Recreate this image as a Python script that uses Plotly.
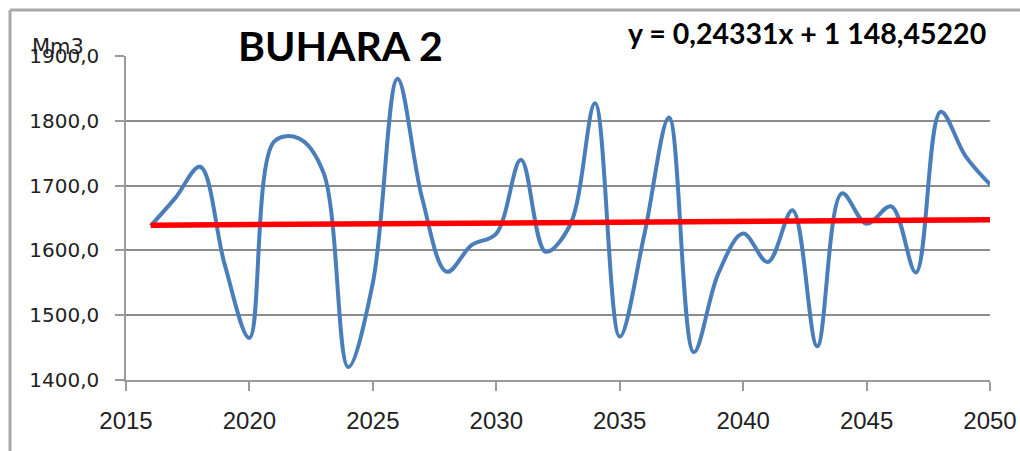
import plotly.graph_objects as go

# Data
years = list(range(2016, 2051))
values = [
    1638, 1681, 1729, 1578, 1465, 1768, 1773, 1720, 1420, 1550,
    1865, 1680, 1567, 1608, 1626, 1740, 1598, 1640, 1827, 1467,
    1625, 1805, 1443, 1565, 1626, 1582, 1662, 1452, 1688, 1641,
    1668, 1566, 1814, 1746, 1702,
]
trend_years = [2016, 2050]
trend_values = [1638.9, 1647.2]  # y = 0,24331x + 1 148,45220

x_ticks = [2015, 2020, 2025, 2030, 2035, 2040, 2045, 2050]
y_ticks = [1400, 1500, 1600, 1700, 1800, 1900]
y_ticktext = ["1400,0", "1500,0", "1600,0", "1700,0", "1800,0", "1900,0"]
grid_vals = [1500, 1600, 1700, 1800]

AXIS_GRAY = "#9a9a9a"
GRID_GRAY = "#8c8c8c"

# plot area in pixels, used to place the free texts
plot_l, plot_w = 126, 864
plot_t, plot_h = 56, 324


def px_x(x):
    return (x - plot_l) / plot_w


def px_y(y):
    return (plot_t + plot_h - y) / plot_h


fig = go.Figure()

# Blue smoothed series
fig.add_trace(
    go.Scatter(
        x=years,
        y=values,
        mode="lines",
        line=dict(color="#4a7ebb", width=4, shape="spline", smoothing=1.0),
        showlegend=False,
    )
)

# Red linear trend
fig.add_trace(
    go.Scatter(
        x=trend_years,
        y=trend_values,
        mode="lines",
        line=dict(color="#ff0000", width=5.5),
        showlegend=False,
    )
)

# Gridlines only between 1500 and 1800 (no line at the top edge)
fig.add_trace(
    go.Scatter(x=[None], y=[None], yaxis="y2", showlegend=False, hoverinfo="skip")
)

fig.update_layout(
    width=1020,
    height=451,
    margin=dict(l=plot_l, r=1020 - plot_l - plot_w, t=plot_t, b=451 - plot_t - plot_h),
    paper_bgcolor="white",
    plot_bgcolor="white",
    xaxis=dict(
        range=[2015, 2050],
        tickvals=x_ticks,
        ticks="outside",
        ticklen=9,
        tickcolor=AXIS_GRAY,
        tickwidth=1.5,
        showline=True,
        linecolor=AXIS_GRAY,
        linewidth=1.5,
        showgrid=False,
        zeroline=False,
        automargin=False,
        ticklabelstandoff=9,
        tickfont=dict(family="Liberation Sans, Arial, sans-serif", size=24, color="#222"),
    ),
    yaxis=dict(
        range=[1400, 1900],
        tickvals=y_ticks,
        ticktext=y_ticktext,
        ticks="outside",
        ticklen=9,
        tickcolor=AXIS_GRAY,
        tickwidth=1.5,
        showline=True,
        linecolor=AXIS_GRAY,
        linewidth=1.5,
        showgrid=False,
        zeroline=False,
        automargin=False,
        ticklabelstandoff=12,
        tickfont=dict(family="DejaVu Sans, sans-serif", size=20, color="#222"),
    ),
    yaxis2=dict(
        range=[1400, 1900],
        overlaying="y",
        tickvals=grid_vals,
        showticklabels=False,
        showgrid=True,
        gridcolor=GRID_GRAY,
        gridwidth=1.5,
        zeroline=False,
        automargin=False,
        layer="below traces",
    ),
    shapes=[
        # chart-area border (top and left, rest is cropped)
        dict(type="line", xref="paper", yref="paper", x0=px_x(10), x1=px_x(1030),
             y0=px_y(10), y1=px_y(10), line=dict(color="#a8a8a8", width=3)),
        dict(type="line", xref="paper", yref="paper", x0=px_x(10), x1=px_x(10),
             y0=px_y(10), y1=px_y(460), line=dict(color="#a8a8a8", width=3)),
    ],
    annotations=[
        dict(
            text="<b>BUHARA 2</b>",
            x=px_x(340), y=px_y(45), xref="paper", yref="paper",
            xanchor="center", yanchor="middle",
            showarrow=False,
            font=dict(family="Lato, Open Sans, sans-serif", size=41, color="black"),
        ),
        dict(
            text="<b>y = 0,24331x + 1 148,45220</b>",
            x=px_x(988), y=px_y(33), xref="paper", yref="paper",
            xanchor="right", yanchor="middle",
            showarrow=False,
            font=dict(family="Lato, Open Sans, sans-serif", size=28.5, color="black"),
        ),
        dict(
            text="Mm3",
            x=px_x(30), y=px_y(47), xref="paper", yref="paper",
            xanchor="left", yanchor="middle",
            showarrow=False,
            font=dict(family="DejaVu Sans, sans-serif", size=21, color="#222"),
        ),
    ],
)

# drop the default page margin so the figure sits at the window's top-left corner
fig.write_html(
    "out.html",
    config={"displayModeBar": False},
    post_script="document.body.style.margin='0';",
)
